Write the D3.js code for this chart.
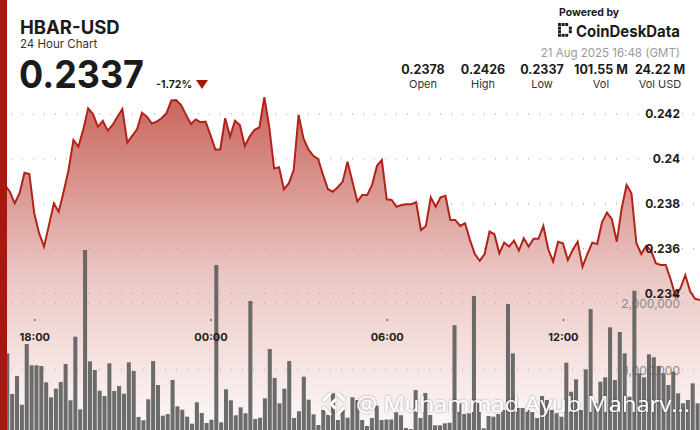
<!DOCTYPE html>
<html>
<head>
<meta charset="utf-8">
<script src="https://cdn.jsdelivr.net/npm/d3@7"></script>
<style>
  html, body { margin: 0; padding: 0; background: #fff; }
  svg { display: block; font-family: Inter, "Open Sans", sans-serif; }
</style>
</head>
<body>
<div id="chart"></div>
<script>
// 10 minute candles, 20 Aug 16:50 -> 21 Aug 16:40 (GMT)
const startTime = Date.UTC(2025, 7, 20, 16, 50);
const stepMs = 10 * 60 * 1000;

const price = [
  0.23891, 0.23883, 0.23853, 0.23801, 0.23846, 0.23938, 0.23932, 0.23757, 0.23667, 0.23608,
  0.23704, 0.23801, 0.23764, 0.23853, 0.2395, 0.24084, 0.24054, 0.24129, 0.24225, 0.242,
  0.24143, 0.2417, 0.24126, 0.24151, 0.24188, 0.24222, 0.24072, 0.24102, 0.24132, 0.24206,
  0.24188, 0.24158, 0.24166, 0.24181, 0.24203, 0.2426, 0.24262, 0.2424, 0.24196, 0.24155,
  0.24176, 0.24163, 0.24166, 0.24106, 0.24042, 0.24042, 0.24181, 0.24099, 0.2417, 0.24151,
  0.24057, 0.24099, 0.24129, 0.2414, 0.24275, 0.24143, 0.23957, 0.23962, 0.23864, 0.2389,
  0.2395, 0.24196, 0.24091, 0.24042, 0.24013, 0.23998, 0.23928, 0.23864, 0.23853, 0.23873,
  0.23898, 0.23987, 0.23898, 0.23809, 0.23838, 0.23838, 0.23883, 0.23968, 0.23995, 0.23819,
  0.23816, 0.23786, 0.23794, 0.23797, 0.23797, 0.23806, 0.23682, 0.237, 0.23828, 0.23786,
  0.23828, 0.23835, 0.23727, 0.23727, 0.237, 0.23712, 0.23638, 0.23575, 0.23545, 0.23575,
  0.23675, 0.23663, 0.23578, 0.23626, 0.23608, 0.23635, 0.2359, 0.23645, 0.23608, 0.23643,
  0.23643, 0.237, 0.23596, 0.23541, 0.2363, 0.23623, 0.23548, 0.23593, 0.2363, 0.23518,
  0.23575, 0.23626, 0.2362, 0.23719, 0.2376, 0.2373, 0.2363, 0.23779, 0.23883, 0.23846,
  0.23623, 0.23575, 0.23611, 0.2359, 0.23533, 0.23526, 0.23526, 0.23462, 0.23385, 0.23422,
  0.23481, 0.23407, 0.23375, 0.2337
];

// volume per candle, millions of HBAR
const volume = [
  0.851, 1.249, 0.642, 0.910, 0.482, 1.388, 1.070, 1.070, 1.060, 0.816,
  0.593, 0.721, 0.821, 1.090, 0.548, 1.497, 0.413, 2.791, 1.130, 1.000,
  0.691, 0.612, 1.100, 0.687, 0.761, 0.646, 1.115, 0.985, 0.299, 0.249,
  0.563, 1.134, 0.776, 0.318, 0.343, 0.851, 0.458, 0.407, 0.303, 0.199,
  0.518, 0.358, 0.209, 0.258, 2.567, 0.219, 0.712, 0.548, 0.324, 0.443,
  0.354, 2.030, 0.269, 0.288, 0.578, 1.313, 0.881, 0.503, 0.721, 1.134,
  0.284, 0.384, 0.900, 0.557, 0.339, 0.179, 0.403, 0.328, 0.652, 0.254,
  0.403, 0.288, 0.593, 0.552, 0.254, 0.164, 0.284, 0.467, 0.254, 0.261,
  0.261, 0.369, 0.325, 0.134, 0.119, 0.701, 0.284, 0.657, 0.328, 0.175,
  0.175, 0.204, 0.213, 1.669, 0.503, 0.343, 0.354, 2.104, 0.503, 0.130,
  0.313, 0.303, 0.343, 0.403, 1.985, 1.249, 0.433, 0.433, 0.403, 0.373,
  0.284, 0.612, 0.552, 0.403, 0.354, 0.303, 1.109, 0.676, 0.861, 0.403,
  1.010, 1.910, 0.503, 0.825, 0.891, 1.637, 0.851, 1.567, 1.249, 0.601,
  2.184, 0.951, 0.891, 1.234, 1.190, 1.060, 0.951, 0.776, 0.975, 0.652,
  0.503, 0.552, 0.801, 0.503
];

const priceTicks = [0.234, 0.236, 0.238, 0.24, 0.242];
const volumeTicks = [1000000, 2000000];
const statValues = ["0.2378", "0.2426", "0.2337", "101.55 M", "24.22 M"];
const statLabels = ["Open", "High", "Low", "Vol", "Vol USD"];

const W = 700, H = 430;
const red = "#a9180e";

const svg = d3.select("#chart").append("svg")
  .attr("width", W)
  .attr("height", H);

const times = price.map((_, i) => new Date(startTime + i * stepMs));

const x = d3.scaleUtc()
  .domain([times[0], times[times.length - 1]])
  .range([0, W]);
const y = d3.scaleLinear().domain([0.234, 0.242]).range([293.2, 114]);
const yv = d3.scaleLinear().domain([0, 2000000]).range([437, 303]);
const xb = d3.scaleBand()
  .domain(d3.range(volume.length))
  .range([0, W])
  .paddingInner(0.17)
  .paddingOuter(0.085);

// gradient under the line
const defs = svg.append("defs");
const grad = defs.append("linearGradient")
  .attr("id", "areaFill")
  .attr("gradientUnits", "userSpaceOnUse")
  .attr("x1", 0).attr("x2", 0)
  .attr("y1", 95).attr("y2", H);
grad.append("stop").attr("offset", "0%").attr("stop-color", "#b3261b").attr("stop-opacity", 0.72);
grad.append("stop").attr("offset", "55%").attr("stop-color", "#b3261b").attr("stop-opacity", 0.25);
grad.append("stop").attr("offset", "100%").attr("stop-color", "#b3261b").attr("stop-opacity", 0.03);

const shadow = defs.append("filter").attr("id", "wmShadow")
  .attr("x", "-10%").attr("y", "-30%").attr("width", "120%").attr("height", "160%");
shadow.append("feDropShadow")
  .attr("dx", 0).attr("dy", 0).attr("stdDeviation", 1)
  .attr("flood-color", "#000").attr("flood-opacity", 0.45);

svg.append("path")
  .datum(price)
  .attr("fill", "url(#areaFill)")
  .attr("d", d3.area()
    .x((d, i) => x(times[i]))
    .y0(H)
    .y1(d => y(d)));

// dotted grid
const grid = svg.append("g");
grid.selectAll("line.p")
  .data(priceTicks)
  .enter()
  .append("line")
  .attr("x1", 0).attr("x2", W)
  .attr("y1", d => y(d)).attr("y2", d => y(d))
  .attr("stroke", "#9a9a9a")
  .attr("stroke-width", 1)
  .attr("stroke-dasharray", "1,10");
grid.selectAll("line.v")
  .data(volumeTicks)
  .enter()
  .append("line")
  .attr("x1", 0).attr("x2", W)
  .attr("y1", d => yv(d)).attr("y2", d => yv(d))
  .attr("stroke", "#9a9a9a")
  .attr("stroke-width", 1)
  .attr("stroke-dasharray", "1,10");

// volume axis labels (sit under the bars)
svg.append("g")
  .selectAll("text")
  .data(volumeTicks)
  .enter()
  .append("text")
  .attr("x", 680)
  .attr("y", d => yv(d) + 4.5)
  .attr("text-anchor", "end")
  .attr("font-size", 12)
  .attr("fill", "#8a8a8a")
  .text(d3.format(","));

// volume bars
svg.append("g")
  .selectAll("rect")
  .data(volume)
  .enter()
  .append("rect")
  .attr("x", (d, i) => xb(i))
  .attr("width", xb.bandwidth())
  .attr("y", d => yv(d * 1e6))
  .attr("height", d => yv(0) - yv(d * 1e6))
  .attr("fill", "#5f5f5f")
  .attr("fill-opacity", 0.92);

// price line
svg.append("path")
  .datum(price)
  .attr("fill", "none")
  .attr("stroke", "#b1231a")
  .attr("stroke-width", 2)
  .attr("stroke-linejoin", "miter")
  .attr("d", d3.line()
    .x((d, i) => x(times[i]))
    .y(d => y(d)));

// price labels
svg.append("g")
  .attr("transform", "translate(680,0)")
  .call(d3.axisLeft(y).tickValues(priceTicks).tickSize(0).tickPadding(0).tickFormat(d => String(+d.toFixed(3))))
  .call(g => g.select(".domain").remove())
  .selectAll("text")
  .attr("font-family", "Inter, sans-serif")
  .attr("font-size", 12)
  .attr("font-weight", 700)
  .attr("fill", "#1d1d1d");

// time axis
const xAxis = svg.append("g")
  .attr("transform", "translate(0,319)")
  .call(d3.axisBottom(x).ticks(d3.utcHour.every(6)).tickFormat(d3.utcFormat("%H:%M")).tickSize(2).tickPadding(12));
xAxis.select(".domain").remove();
xAxis.selectAll("line").attr("stroke", "#333");
xAxis.selectAll("text")
  .attr("font-family", "Inter, sans-serif")
  .attr("font-size", 11)
  .attr("font-weight", 700)
  .attr("fill", "#1d1d1d");

// watermark
const wm = svg.append("g").attr("filter", "url(#wmShadow)");
const icon = wm.append("g").attr("transform", "translate(334,404)")
  .attr("fill", "none").attr("stroke", "#fff").attr("stroke-width", 2.6);
icon.append("path").attr("d", "M-3,-11 L-11,-3 M3,-11 L11,-3 M-11,3 L-3,11 M11,3 L3,11");
icon.append("path").attr("d", "M2,-5 L-3,0 L2,5").attr("stroke-width", 3);
wm.append("text")
  .attr("x", 356)
  .attr("y", 412)
  .attr("font-family", "'Open Sans', sans-serif")
  .attr("font-size", 21)
  .attr("fill", "#fff")
  .attr("textLength", 334)
  .attr("lengthAdjust", "spacingAndGlyphs")
  .text("@ Muhammad Ayub Maharv...");

// header, left
svg.append("text")
  .attr("x", 20).attr("y", 34)
  .attr("font-size", 18.5).attr("font-weight", 700).attr("fill", "#1b1b1b")
  .text("HBAR-USD");
svg.append("text")
  .attr("x", 20).attr("y", 47.5)
  .attr("font-size", 11.5).attr("fill", "#333")
  .text("24 Hour Chart");
svg.append("text")
  .attr("x", 19).attr("y", 87.5)
  .attr("font-size", 38).attr("font-weight", 700).attr("fill", "#1b1b1b")
  .attr("textLength", 125).attr("lengthAdjust", "spacingAndGlyphs")
  .text("0.2337");
svg.append("text")
  .attr("x", 156).attr("y", 87.5)
  .attr("font-size", 10.5).attr("font-weight", 700).attr("fill", "#1b1b1b")
  .text("-1.72%");
svg.append("path")
  .attr("d", "M196,80 L208,80 L202,89 Z")
  .attr("fill", red);

// header, right
svg.append("text")
  .attr("x", 559).attr("y", 16)
  .attr("font-size", 10.5).attr("font-weight", 700).attr("fill", "#1b1b1b")
  .text("Powered by");
const logo = svg.append("g").attr("transform", "translate(558,23)").attr("fill", "#1b1b1b");
[[0,0],[1,0],[0,1],[0,2],[0,3],[1,3],[2,0],[2,3],[3,1],[3,2]].forEach(c => {
  logo.append("rect")
    .attr("x", c[0] * 3.6).attr("y", c[1] * 3.6)
    .attr("width", 3).attr("height", 3);
});
svg.append("text")
  .attr("x", 576).attr("y", 37)
  .attr("font-size", 16).attr("font-weight", 700).attr("fill", "#1b1b1b")
  .attr("textLength", 104).attr("lengthAdjust", "spacingAndGlyphs")
  .text("CoinDeskData");
svg.append("text")
  .attr("x", 680).attr("y", 56.5)
  .attr("text-anchor", "end")
  .attr("font-size", 11.5).attr("fill", "#9a9a9a")
  .text("21 Aug 2025 16:48 (GMT)");

const statX = [423, 483, 542, 601, 660];
const statsG = svg.append("g");
statsG.selectAll("text.v")
  .data(statValues)
  .enter()
  .append("text")
  .attr("x", (d, i) => statX[i]).attr("y", 74)
  .attr("text-anchor", "middle")
  .attr("font-size", 12.5).attr("font-weight", 700).attr("fill", "#1b1b1b")
  .text(d => d);
statsG.selectAll("text.l")
  .data(statLabels)
  .enter()
  .append("text")
  .attr("x", (d, i) => statX[i]).attr("y", 87.5)
  .attr("text-anchor", "middle")
  .attr("font-size", 11).attr("fill", "#333")
  .text(d => d);

// left accent strip
svg.append("rect")
  .attr("x", 0).attr("y", 0)
  .attr("width", 7).attr("height", H)
  .attr("fill", red);
</script>
</body>
</html>
